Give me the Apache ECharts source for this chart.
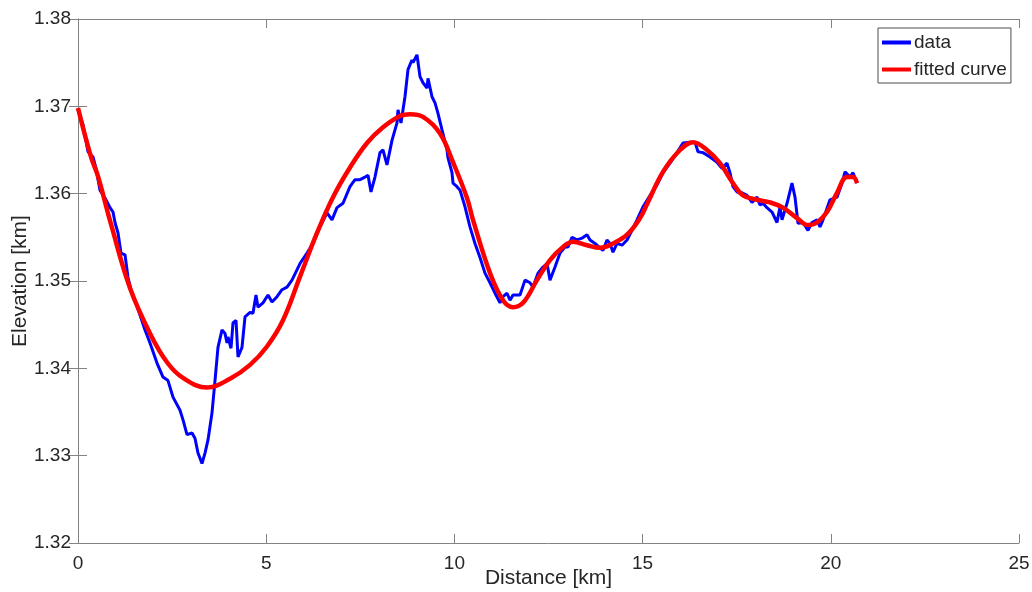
<!DOCTYPE html>
<html>
<head>
<meta charset="utf-8">
<script src="https://cdn.jsdelivr.net/npm/echarts@6/dist/echarts.min.js"></script>
<style>
html,body{margin:0;padding:0;background:#fff;}
#chart{width:1032px;height:592px;}
</style>
</head>
<body>
<div id="chart"></div>
<script>
// Measured profile (blue)
var dataDistance = [0.000,0.133,0.266,0.399,0.478,0.584,0.717,0.850,0.930,0.983,1.063,1.142,1.249,1.328,1.408,1.514,1.647,1.780,1.913,2.099,2.258,2.391,2.524,2.710,2.790,2.896,3.029,3.108,3.188,3.294,3.374,3.454,3.560,3.640,3.719,3.826,3.905,3.959,3.985,4.065,4.118,4.198,4.251,4.357,4.437,4.570,4.649,4.729,4.782,4.915,5.048,5.154,5.287,5.420,5.553,5.685,5.898,6.084,6.243,6.429,6.615,6.748,6.881,7.040,7.226,7.359,7.492,7.625,7.705,7.784,7.890,8.023,8.103,8.209,8.342,8.475,8.502,8.581,8.687,8.767,8.873,8.900,9.006,9.086,9.166,9.272,9.299,9.405,9.485,9.564,9.671,9.803,9.830,9.936,9.963,10.069,10.149,10.282,10.414,10.547,10.680,10.813,10.946,11.079,11.212,11.291,11.398,11.477,11.557,11.743,11.876,12.009,12.088,12.221,12.354,12.460,12.540,12.673,12.806,12.938,13.018,13.124,13.257,13.390,13.523,13.603,13.736,13.868,13.948,14.054,14.134,14.214,14.320,14.453,14.586,14.719,14.851,15.011,15.197,15.383,15.542,15.728,15.914,16.073,16.259,16.392,16.472,16.605,16.791,16.977,17.109,17.242,17.322,17.402,17.508,17.641,17.774,17.906,18.039,18.119,18.199,18.305,18.438,18.571,18.650,18.704,18.837,18.969,19.049,19.129,19.262,19.394,19.501,19.633,19.713,19.793,19.979,20.165,20.298,20.377,20.510,20.590,20.696];
var dataElevation = [1.3696,1.3679,1.3648,1.3642,1.3629,1.3604,1.3595,1.3584,1.3579,1.3567,1.3555,1.3532,1.3530,1.3504,1.3490,1.3478,1.3461,1.3444,1.3429,1.3406,1.3390,1.3386,1.3367,1.3352,1.3341,1.3324,1.3326,1.3320,1.3303,1.3291,1.3303,1.3318,1.3349,1.3386,1.3424,1.3444,1.3440,1.3429,1.3436,1.3423,1.3452,1.3455,1.3413,1.3424,1.3459,1.3464,1.3463,1.3484,1.3470,1.3475,1.3484,1.3476,1.3482,1.3490,1.3493,1.3501,1.3520,1.3532,1.3543,1.3562,1.3578,1.3570,1.3584,1.3589,1.3608,1.3616,1.3616,1.3619,1.3621,1.3602,1.3619,1.3647,1.3650,1.3633,1.3661,1.3681,1.3696,1.3681,1.3711,1.3742,1.3753,1.3750,1.3759,1.3734,1.3727,1.3721,1.3732,1.3711,1.3704,1.3692,1.3673,1.3650,1.3641,1.3624,1.3612,1.3608,1.3604,1.3585,1.3562,1.3543,1.3527,1.3509,1.3498,1.3486,1.3475,1.3482,1.3486,1.3478,1.3484,1.3484,1.3501,1.3498,1.3493,1.3509,1.3516,1.3520,1.3501,1.3516,1.3532,1.3539,1.3539,1.3550,1.3547,1.3549,1.3553,1.3547,1.3543,1.3538,1.3535,1.3547,1.3543,1.3533,1.3543,1.3541,1.3547,1.3558,1.3570,1.3585,1.3598,1.3610,1.3624,1.3635,1.3647,1.3658,1.3659,1.3659,1.3648,1.3647,1.3642,1.3636,1.3629,1.3635,1.3624,1.3608,1.3602,1.3601,1.3598,1.3590,1.3596,1.3587,1.3589,1.3584,1.3579,1.3567,1.3585,1.3570,1.3589,1.3612,1.3596,1.3566,1.3567,1.3558,1.3567,1.3570,1.3562,1.3570,1.3593,1.3596,1.3612,1.3625,1.3619,1.3624,1.3612];

// Fitted curve (red)
var fitDistance = [0.000,0.345,0.530,0.877,1.381,1.913,2.365,2.790,3.427,4.038,4.570,5.021,5.446,5.898,6.350,6.775,7.226,7.678,8.103,8.555,8.820,9.166,9.618,9.963,10.335,10.494,10.946,11.291,11.557,11.823,12.194,12.540,12.885,13.151,13.523,13.868,14.214,14.586,14.931,15.117,15.542,15.994,16.339,16.711,17.056,17.402,17.667,18.039,18.385,18.730,19.102,19.394,19.633,19.899,20.165,20.430,20.590,20.696];
var fitElevation = [1.3698,1.3642,1.3620,1.3565,1.3492,1.3440,1.3407,1.3389,1.3378,1.3388,1.3404,1.3425,1.3455,1.3505,1.3555,1.3596,1.3630,1.3658,1.3676,1.3689,1.3691,1.3688,1.3669,1.3636,1.3595,1.3570,1.3509,1.3478,1.3470,1.3475,1.3501,1.3524,1.3539,1.3545,1.3541,1.3538,1.3543,1.3553,1.3572,1.3588,1.3625,1.3650,1.3659,1.3650,1.3635,1.3612,1.3598,1.3593,1.3590,1.3584,1.3572,1.3564,1.3567,1.3579,1.3601,1.3619,1.3619,1.3612];

var xTicks = [0, 5, 10, 15, 20, 25];
var yTicks = [1.32, 1.33, 1.34, 1.35, 1.36, 1.37, 1.38];
var seriesNames = ['data', 'fitted curve'];

function zip(a, b) { return a.map(function (v, i) { return [v, b[i]]; }); }

var FONT = '"Liberation Sans", Arial, Helvetica, sans-serif';
var AXIS_COLOR = '#828282';
var TEXT_COLOR = '#262626';

var chart = echarts.init(document.getElementById('chart'), null, {renderer: 'canvas'});

function axisCommon(extra) {
  var base = {
    type: 'value',
    axisLine: {show: true, lineStyle: {color: AXIS_COLOR, width: 1}},
    axisTick: {show: true, inside: true, length: 9, lineStyle: {color: AXIS_COLOR, width: 1}},
    splitLine: {show: false}
  };
  for (var k in extra) base[k] = extra[k];
  return base;
}

var option = {
  backgroundColor: '#ffffff',
  animation: false,
  grid: {left: 78, right: 13, top: 19, bottom: 49, containLabel: false, outerBoundsMode: 'none'},
  legend: {
    data: seriesNames,
    orient: 'vertical',
    left: 878,
    top: 28,
    padding: [5, 4, 4, 4],
    itemGap: 8,
    itemWidth: 29,
    itemHeight: 4,
    icon: 'rect',
    backgroundColor: '#ffffff',
    borderColor: '#4d4d4d',
    borderWidth: 1,
    borderRadius: 0,
    textStyle: {fontFamily: FONT, fontSize: 19, color: TEXT_COLOR, lineHeight: 19, padding: [0, 0, 0, -2]}
  },
  xAxis: [
    axisCommon({
      min: xTicks[0], max: xTicks[xTicks.length - 1], interval: 5,
      position: 'bottom',
      name: 'Distance [km]', nameLocation: 'middle', nameGap: 25, nameMoveOverlap: false,
      nameTextStyle: {fontFamily: FONT, fontSize: 21, color: TEXT_COLOR},
      axisLabel: {show: true, margin: 11, fontFamily: FONT, fontSize: 19, color: TEXT_COLOR,
        showMinLabel: true, showMaxLabel: true,
        formatter: function (v) { return String(xTicks[Math.round(v / 5)]); }}
    }),
    axisCommon({
      min: xTicks[0], max: xTicks[xTicks.length - 1], interval: 5,
      position: 'top', axisLabel: {show: false}
    })
  ],
  yAxis: [
    axisCommon({
      min: yTicks[0], max: yTicks[yTicks.length - 1], interval: 0.01,
      position: 'left',
      name: 'Elevation [km]', nameLocation: 'middle', nameGap: 47, nameRotate: 90, nameMoveOverlap: false,
      nameTextStyle: {fontFamily: FONT, fontSize: 21, color: TEXT_COLOR},
      axisLabel: {show: true, margin: 7, fontFamily: FONT, fontSize: 19, color: TEXT_COLOR,
        showMinLabel: true, showMaxLabel: true,
        formatter: function (v) { return yTicks[Math.round((v - yTicks[0]) / 0.01)].toFixed(2); }}
    }),
    axisCommon({
      min: yTicks[0], max: yTicks[yTicks.length - 1], interval: 0.01,
      position: 'right', axisLabel: {show: false}
    })
  ],
  series: [
    {
      name: seriesNames[0],
      type: 'line',
      xAxisIndex: 0, yAxisIndex: 0,
      data: zip(dataDistance, dataElevation),
      showSymbol: false, symbol: 'none',
      smooth: false,
      lineStyle: {color: '#0000ff', width: 3},
      itemStyle: {color: '#0000ff'},
      z: 2
    },
    {
      name: seriesNames[1],
      type: 'line',
      xAxisIndex: 0, yAxisIndex: 0,
      data: zip(fitDistance, fitElevation),
      showSymbol: false, symbol: 'none',
      smooth: 0.4,
      lineStyle: {color: '#ff0000', width: 4.5},
      itemStyle: {color: '#ff0000'},
      z: 3
    }
  ]
};
chart.setOption(option);
</script>
</body>
</html>
